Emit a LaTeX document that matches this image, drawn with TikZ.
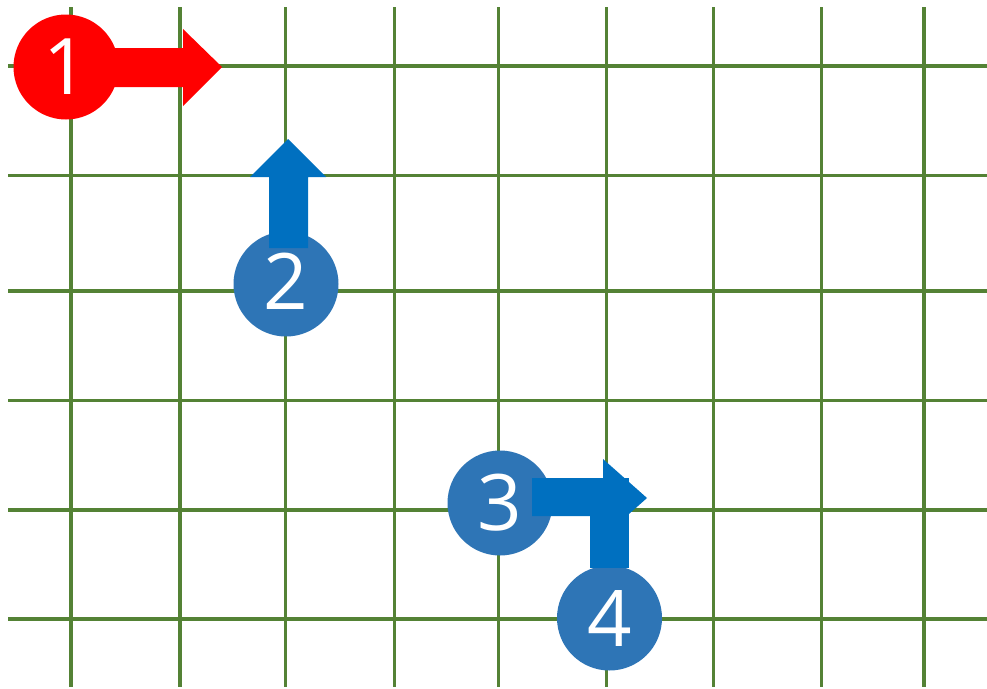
\documentclass[tikz,border=0pt]{standalone}
\usepackage{fontspec}
\setmainfont{Open Sans}
\definecolor{gridgreen}{HTML}{548235}
\definecolor{circblue}{HTML}{2E75B6}
\definecolor{arrblue}{HTML}{0070C0}
\definecolor{red1}{HTML}{FF0000}
\begin{document}
\begin{tikzpicture}[x=1pt,y=-1pt,
  gridline/.style={draw=gridgreen,line width=3.5pt},
  badge/.style={circle,minimum size=105pt,inner sep=0pt},
  badgetext/.style={text=white,font=\fontsize{78}{78}\selectfont,inner sep=0pt},
  blockarrow/.style={draw=none}]
\useasboundingbox (0,0) rectangle (987,688);
\fill[white] (0,0) rectangle (987,688);
% grid
\foreach \x in {71,180,285.7,394.3,498.3,606.7,713.3,821.7,924}
  \draw[gridline] (\x,7) -- (\x,687);
\foreach \y in {66,175.5,291,400.5,510,619}
  \draw[gridline] (8,\y) -- (987,\y);
% circles
\node[badge,fill=red1] (c1) at (66,67) {};
\node[badge,fill=circblue] (c2) at (286,284) {};
\node[badge,fill=circblue] (c3) at (500,503) {};
\node[badge,fill=circblue] (c4) at (609.5,618) {};
% arrows
\fill[red1] (100,48) -- (183,48) -- (183,29) -- (222,67) -- (183,106) -- (183,87) -- (100,87) -- cycle;
\fill[arrblue] (269,248) -- (269,177) -- (250,177) -- (288,139) -- (326,177) -- (308,177) -- (308,248) -- cycle;
\fill[arrblue] (532,478) -- (603,478) -- (603,459) -- (647,498) -- (603,537) -- (603,516) -- (532,516) -- cycle;
\fill[arrblue] (590,568) -- (590,478) -- (629,478) -- (629,568) -- cycle;
% labels
\node[badgetext] at (c1) {1};
\node[badgetext] at ([yshift=3pt]c2) {2};
\node[badgetext] at (c3) {3};
\node[badgetext] at (c4) {4};
\end{tikzpicture}
\end{document}
